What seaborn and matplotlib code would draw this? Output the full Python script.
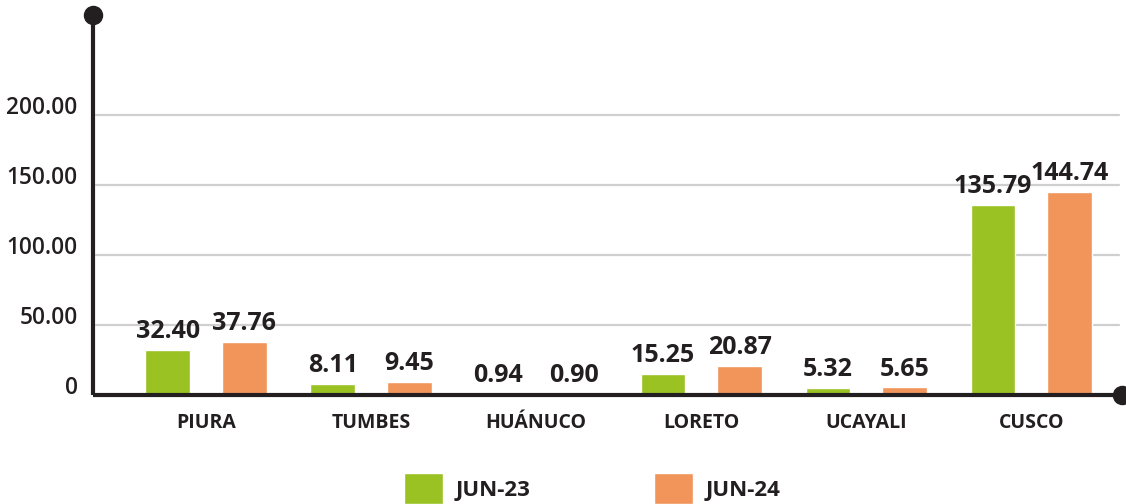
import matplotlib.pyplot as plt
import seaborn as sns
import pandas as pd
from matplotlib.patches import Patch
from matplotlib.transforms import ScaledTranslation

regions = ["PIURA", "TUMBES", "HUÁNUCO", "LORETO", "UCAYALI", "CUSCO"]
jun_23 = [32.40, 8.11, 0.94, 15.25, 5.32, 135.79]
jun_24 = [37.76, 9.45, 0.90, 20.87, 5.65, 144.74]
series = ["JUN-23", "JUN-24"]
y_ticks = [0, 50, 100, 150, 200]
y_tick_labels = ["0", "50.00", "100.00", "150.00", "200.00"]

GREEN = "#9BC223"
ORANGE = "#F2955B"
DARK = "#231F20"

df = pd.DataFrame({
    "Region": regions * 2,
    "Periodo": [series[0]] * len(regions) + [series[1]] * len(regions),
    "Valor": jun_23 + jun_24,
})

sns.set_theme(style="white")
plt.rcParams['font.family'] = ['Open Sans', 'DejaVu Sans']

fig = plt.figure(figsize=(11.26, 5.04), dpi=100)
ax = fig.add_axes([93 / 1126, 109 / 504, (1122 - 93) / 1126, (395 - 15) / 504])

sns.barplot(data=df, x="Region", y="Valor", hue="Periodo", palette=[GREEN, ORANGE],
            width=0.93, gap=0.42, legend=False, ax=ax, saturation=1)

ax.set_xlim(-0.685, 5.55)
ax.set_ylim(0, 271)
ax.set_xlabel("")
ax.set_ylabel("")

# grid lines (not at zero, the axis sits there)
for yv in y_ticks[1:]:
    ax.axhline(yv, color="#CFCFCF", lw=1.6, zorder=0, xmin=0.003, xmax=0.997)

ax.tick_params(axis="y", length=0, pad=11)
ax.tick_params(axis="x", length=0, pad=13)
ax.set_yticks(y_ticks)
ax.set_yticklabels(y_tick_labels, fontsize=16.3, color=DARK, fontweight="semibold")
for lab in ax.get_yticklabels():
    lab.set_transform(lab.get_transform() + ScaledTranslation(0, 7 / 72, fig.dpi_scale_trans))
ax.set_xticks(range(len(regions)))
ax.set_xticklabels(regions, fontsize=14, fontweight="bold", color=DARK)

for side in ["top", "right"]:
    ax.spines[side].set_visible(False)
for side in ["left", "bottom"]:
    ax.spines[side].set_color(DARK)
    ax.spines[side].set_linewidth(3)
    ax.spines[side].set_capstyle("butt")

# dots at the end of the axes
ax.plot([0], [1], marker="o", ms=13, color=DARK, transform=ax.transAxes, clip_on=False)
ax.plot([1], [0], marker="o", ms=13, color=DARK, transform=ax.transAxes, clip_on=False)

for cont in ax.containers:
    ax.bar_label(cont, fmt="%.2f", padding=4, fontsize=18, fontweight="bold", color=DARK)

handles = [Patch(facecolor=GREEN, label=series[0]), Patch(facecolor=ORANGE, label=series[1])]
fig.legend(handles=handles, loc="lower center", bbox_to_anchor=(0.526, -0.022), ncol=2,
           frameon=False, prop={"size": 16, "weight": "bold"}, handlelength=1.75,
           handleheight=1.75, handletextpad=0.55, columnspacing=5.6, borderpad=0,
           labelcolor=DARK)

fig.savefig("out.png", dpi=100)
